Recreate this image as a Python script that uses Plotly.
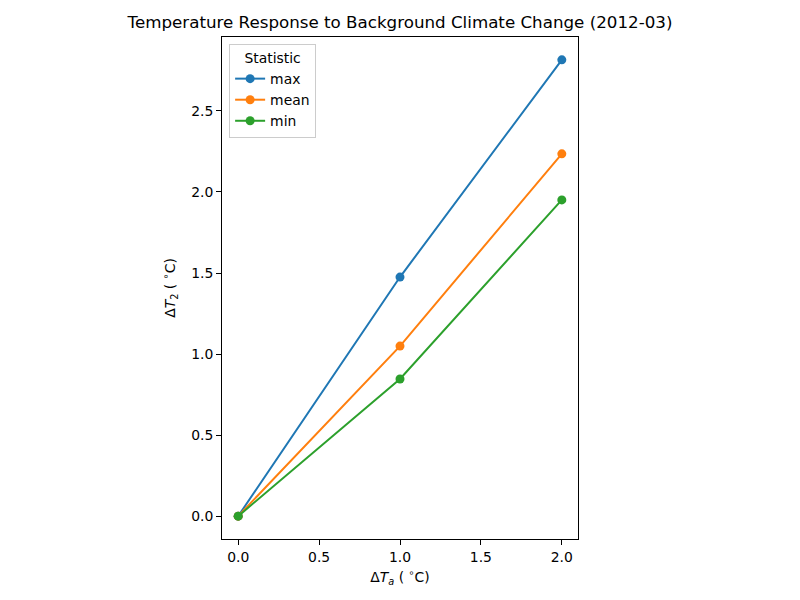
import plotly.graph_objects as go

delta_ta = [0.0, 1.0, 2.0]
max_vals = [0.0, 1.475, 2.815]
mean_vals = [0.0, 1.049, 2.235]
min_vals = [0.0, 0.846, 1.951]
series_names = ["max", "mean", "min"]
colors = ["#1f77b4", "#ff7f0e", "#2ca02c"]
x_ticks = [0.0, 0.5, 1.0, 1.5, 2.0]
y_ticks = [0.0, 0.5, 1.0, 1.5, 2.0, 2.5]

fig = go.Figure()
for name, vals, c in zip(series_names, [max_vals, mean_vals, min_vals], colors):
    fig.add_trace(go.Scatter(
        x=delta_ta, y=vals, mode="lines+markers", name=name,
        line=dict(color=c, width=2), marker=dict(color=c, size=9),
    ))

font = "DejaVu Sans"
fig.update_layout(
    width=800, height=600,
    margin=dict(l=222, r=222, t=37, b=61, autoexpand=False),
    plot_bgcolor="white", paper_bgcolor="white",
    font=dict(family=font, size=13.9, color="black"),
    title=dict(text="Temperature Response to Background Climate Change (2012-03)",
               x=0.5, xanchor="center", y=1 - 22 / 600, yanchor="middle",
               font=dict(size=16.7, family=font, color="black")),
    showlegend=True,
    legend=dict(
        title=dict(text="Statistic", side="top center", font=dict(size=13.9)),
        x=0.02, y=0.986, xanchor="left", yanchor="top",
        bgcolor="rgba(255,255,255,0.8)", bordercolor="#cccccc", borderwidth=1,
        font=dict(size=13.9), itemwidth=30, tracegroupgap=0,
    ),
    xaxis=dict(
        range=[-0.1, 2.1], tickvals=x_ticks, ticktext=[f"{v:.1f}" for v in x_ticks],
        showgrid=False, zeroline=False, showline=True, linecolor="black", linewidth=1,
        mirror=True, ticks="outside", ticklen=5, tickcolor="black",
        title=dict(text="Δ<i>T</i><sub><i>a</i></sub> ( <sup>∘</sup>C)", standoff=8,
                   font=dict(size=13.9)),
    ),
    yaxis=dict(
        range=[-0.141, 2.956], tickvals=y_ticks, ticktext=[f"{v:.1f}" for v in y_ticks],
        showgrid=False, zeroline=False, showline=True, linecolor="black", linewidth=1,
        mirror=True, ticks="outside", ticklen=5, tickcolor="black",
        title=dict(text="Δ<i>T</i><sub>2</sub> ( <sup>∘</sup>C)", standoff=12,
                   font=dict(size=13.9)),
    ),
)

fig.write_html("out.html")
